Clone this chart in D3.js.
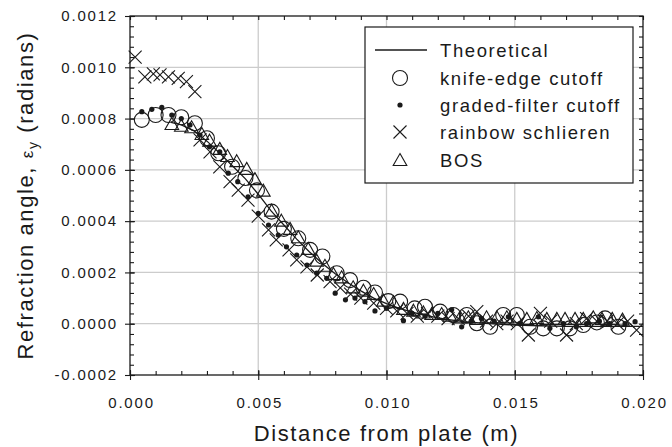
<!DOCTYPE html>
<html>
<head>
<meta charset="utf-8">
<script src="https://cdn.jsdelivr.net/npm/d3@7"></script>
<style>
  body { margin: 0; background: #fff; }
  svg { display: block; font-family: "Liberation Sans", Arial, sans-serif; }
</style>
</head>
<body>
<svg id="chart" width="672" height="447"></svg>
<script>
// ---- data ----
const xTicks = [0, 0.005, 0.010, 0.015, 0.020];
const yTicks = [-0.0002, 0, 0.0002, 0.0004, 0.0006, 0.0008, 0.0010, 0.0012];
const legendLabels = ["Theoretical", "knife-edge cutoff", "graded-filter cutoff", "rainbow schlieren", "BOS"];

const theoretical = [
  [0.0016, 0.000785], [0.0020, 0.000775], [0.0025, 0.000752], [0.0030, 0.000712],
  [0.0035, 0.000665], [0.0040, 0.000615], [0.0045, 0.000565], [0.0050, 0.000505],
  [0.0055, 0.000440], [0.0060, 0.000385], [0.0065, 0.000330], [0.0070, 0.000280],
  [0.0075, 0.000235], [0.0080, 0.000195], [0.0085, 0.000160], [0.0090, 0.000128],
  [0.0095, 0.000100], [0.0100, 0.000078], [0.0105, 0.000060], [0.0110, 0.000045],
  [0.0115, 0.000033], [0.0120, 0.000023], [0.0125, 0.000015], [0.0130, 0.000008],
  [0.0140, 0.000000], [0.0150, -0.000005], [0.0160, -0.000008], [0.0170, -0.000010],
  [0.0180, -0.000010], [0.0190, -0.000010], [0.0200, -0.000010]
];

const knifeEdge = [
  [0.00046, 0.000795], [0.00100, 0.000814], [0.00150, 0.000814], [0.00200, 0.000805],
  [0.00253, 0.000782], [0.00300, 0.000723], [0.00344, 0.000665], [0.00398, 0.000612],
  [0.00450, 0.000568], [0.00495, 0.000520], [0.00552, 0.000437], [0.00600, 0.000370],
  [0.00656, 0.000333], [0.00702, 0.000288], [0.00750, 0.000262], [0.00806, 0.000197],
  [0.00858, 0.000170], [0.00910, 0.000140], [0.00955, 0.000122], [0.01007, 0.000088],
  [0.01053, 0.000086], [0.01110, 0.000060], [0.01150, 0.000066], [0.01209, 0.000047],
  [0.01260, 0.000034], [0.01313, 0.000034], [0.01352, 0.000002], [0.01404, -0.000012],
  [0.01455, 0.000034], [0.01508, 0.000034], [0.01560, -0.000012], [0.01611, -0.000018],
  [0.01664, -0.000018], [0.01715, -0.000018], [0.01767, -0.000005], [0.01820, 0.000005],
  [0.01852, 0.000021], [0.01904, -0.000012]
];

const gradedFilter = [
  [0.00046, 0.000827], [0.00085, 0.000836], [0.00124, 0.000844], [0.00163, 0.000814],
  [0.00200, 0.000800], [0.00234, 0.000775], [0.00273, 0.000736], [0.00310, 0.000690],
  [0.00350, 0.000670], [0.00383, 0.000587], [0.00420, 0.000554], [0.00460, 0.000495],
  [0.00500, 0.000430], [0.00540, 0.000385], [0.00578, 0.000346], [0.00610, 0.000300],
  [0.00650, 0.000268], [0.00690, 0.000229], [0.00728, 0.000197], [0.00767, 0.000177],
  [0.00800, 0.000119], [0.00840, 0.000093], [0.00877, 0.000100], [0.00916, 0.000086],
  [0.00955, 0.000050], [0.01000, 0.000060], [0.01066, 0.000012], [0.01100, 0.000040],
  [0.01150, 0.000030], [0.01200, 0.000040], [0.01254, 0.000054], [0.01293, -0.000012],
  [0.01330, 0.000010], [0.01370, 0.000020], [0.01420, 0.000010], [0.01475, 0.000027],
  [0.01520, 0.000000], [0.01592, 0.000027], [0.01637, -0.000018], [0.01690, 0.000000],
  [0.01740, -0.000012], [0.01780, 0.000000], [0.01830, 0.000010], [0.01870, 0.000000],
  [0.01930, 0.000000], [0.01969, 0.000008]
];

const rainbow = [
  [0.00020, 0.001040], [0.00058, 0.000963], [0.00091, 0.000974], [0.00117, 0.000970],
  [0.00150, 0.000963], [0.00188, 0.000957], [0.00220, 0.000944], [0.00253, 0.000905],
  [0.00273, 0.000717], [0.00312, 0.000670], [0.00350, 0.000612], [0.00390, 0.000554],
  [0.00422, 0.000521], [0.00460, 0.000482], [0.00500, 0.000420], [0.00540, 0.000366],
  [0.00570, 0.000327], [0.00620, 0.000288], [0.00650, 0.000249], [0.00690, 0.000222],
  [0.00730, 0.000190], [0.00780, 0.000164], [0.00820, 0.000140], [0.00860, 0.000115],
  [0.00900, 0.000100], [0.00950, 0.000080], [0.01000, 0.000060], [0.01040, 0.000050],
  [0.01080, 0.000040], [0.01120, 0.000030], [0.01160, 0.000040], [0.01200, 0.000030],
  [0.01240, 0.000020], [0.01280, 0.000020], [0.01320, 0.000030], [0.01352, 0.000047],
  [0.01390, 0.000010], [0.01430, 0.000000], [0.01470, 0.000010], [0.01510, 0.000000],
  [0.01553, -0.000044], [0.01600, 0.000040], [0.01640, 0.000010], [0.01702, -0.000044],
  [0.01740, 0.000000], [0.01780, 0.000020], [0.01820, 0.000010], [0.01860, 0.000010],
  [0.01900, 0.000000], [0.01940, 0.000010], [0.01975, -0.000025]
];

const bos = [
  [0.00163, 0.000775], [0.00200, 0.000768], [0.00240, 0.000762], [0.00280, 0.000736],
  [0.00310, 0.000710], [0.00350, 0.000678], [0.00380, 0.000650], [0.00416, 0.000630],
  [0.00455, 0.000600], [0.00487, 0.000560], [0.00520, 0.000515], [0.00552, 0.000437],
  [0.00590, 0.000398], [0.00624, 0.000366], [0.00656, 0.000333], [0.00695, 0.000288],
  [0.00728, 0.000242], [0.00760, 0.000222], [0.00793, 0.000190], [0.00825, 0.000177],
  [0.00870, 0.000138], [0.00910, 0.000125], [0.00950, 0.000112], [0.00988, 0.000086],
  [0.01027, 0.000080], [0.01066, 0.000054], [0.01105, 0.000047], [0.01144, 0.000040],
  [0.01176, 0.000034], [0.01215, 0.000034], [0.01248, 0.000027], [0.01287, 0.000021],
  [0.01319, 0.000021], [0.01352, 0.000015], [0.01390, 0.000021], [0.01430, 0.000021],
  [0.01469, 0.000021], [0.01508, 0.000015], [0.01547, 0.000015], [0.01586, 0.000018],
  [0.01625, 0.000015], [0.01664, 0.000015], [0.01696, 0.000015], [0.01735, 0.000015],
  [0.01767, 0.000015], [0.01806, 0.000021], [0.01840, 0.000015], [0.01880, 0.000015],
  [0.01920, 0.000012]
];

// ---- layout ----
const margin = { left: 130, top: 16, right: 29, bottom: 72 };
const width = 672, height = 447;
const svg = d3.select("#chart");

const x = d3.scaleLinear().domain([0, 0.020]).range([margin.left, width - margin.right]);
const y = d3.scaleLinear().domain([-0.0002, 0.0012]).range([height - margin.bottom, margin.top]);

const x0 = x.range()[0], x1 = x.range()[1], y0 = y.range()[0], y1 = y.range()[1];
const ink = "#1a1a1a";

// gridlines
svg.append("g").selectAll("line").data(xTicks.slice(1, -1)).enter().append("line")
    .attr("x1", d => x(d)).attr("x2", d => x(d)).attr("y1", y1).attr("y2", y0)
    .attr("stroke", "#cccccc").attr("stroke-width", 1.3);
svg.append("g").selectAll("line").data(yTicks.slice(1, -1)).enter().append("line")
    .attr("y1", d => y(d)).attr("y2", d => y(d)).attr("x1", x0).attr("x2", x1)
    .attr("stroke", "#cccccc").attr("stroke-width", 1.3);

// axes
const xMinor = d3.range(0, 0.02001, 0.001);
const yMinor = d3.range(-0.0002, 0.00120001, 0.00004);

function styleAxis(g) {
    g.selectAll(".domain").remove();
    g.selectAll("line").attr("stroke", ink).attr("stroke-width", 1.1);
    g.selectAll("text").attr("fill", ink).attr("font-size", 15).attr("letter-spacing", 1.8)
        .attr("font-family", "Liberation Sans, Arial, sans-serif");
}

// bottom
svg.append("g").attr("transform", `translate(0,${y0})`)
    .call(d3.axisBottom(x).tickValues(xMinor).tickSize(-4).tickFormat("")).call(styleAxis);
svg.append("g").attr("transform", `translate(0,${y0})`)
    .call(d3.axisBottom(x).tickValues(xTicks).tickSize(5).tickPadding(17).tickFormat(d => d.toFixed(3)))
    .call(styleAxis)
    .call(g => g.selectAll("text").attr("dx", 1));
svg.append("g").attr("transform", `translate(0,${y0})`)
    .call(d3.axisBottom(x).tickValues(xTicks).tickSize(-5).tickFormat("")).call(styleAxis);
// top
svg.append("g").attr("transform", `translate(0,${y1})`)
    .call(d3.axisTop(x).tickValues(xMinor).tickSize(-4).tickFormat("")).call(styleAxis);
// left
svg.append("g").attr("transform", `translate(${x0},0)`)
    .call(d3.axisLeft(y).tickValues(yMinor).tickSize(-4).tickFormat("")).call(styleAxis);
svg.append("g").attr("transform", `translate(${x0},0)`)
    .call(d3.axisLeft(y).tickValues(yTicks).tickSize(5).tickPadding(7).tickFormat(d => d.toFixed(4)))
    .call(styleAxis);
svg.append("g").attr("transform", `translate(${x0},0)`)
    .call(d3.axisLeft(y).tickValues(yTicks).tickSize(-5).tickFormat("")).call(styleAxis);
// right
svg.append("g").attr("transform", `translate(${x1},0)`)
    .call(d3.axisRight(y).tickValues(yMinor).tickSize(-4).tickFormat("")).call(styleAxis);

// frame
svg.append("rect").attr("x", x0).attr("y", y1).attr("width", x1 - x0).attr("height", y0 - y1)
    .attr("fill", "none").attr("stroke", ink).attr("stroke-width", 1.3);

// axis titles
svg.append("text").attr("x", (x0 + x1) / 2).attr("y", 441).attr("text-anchor", "middle")
    .attr("font-size", 22).attr("letter-spacing", 1.6).attr("fill", ink)
    .text("Distance from plate (m)");

const yt = svg.append("text").attr("transform", `translate(33,${(y0 + y1) / 2}) rotate(-90)`)
    .attr("text-anchor", "middle").attr("font-size", 22).attr("letter-spacing", 1.6).attr("fill", ink);
yt.append("tspan").text("Refraction angle, ");
yt.append("tspan").attr("font-size", 17).text("ε");
yt.append("tspan").attr("font-size", 14).attr("dy", 5).text("y");
yt.append("tspan").attr("dy", -5).text(" (radians)");

// ---- marks ----
const plot = svg.append("g");
const crossPath = "M-6.5,-6.5L6.5,6.5M-6.5,6.5L6.5,-6.5";
const triPath = "M0,-7.5L6.8,4.5L-6.8,4.5Z";

plot.append("path").datum(theoretical)
    .attr("d", d3.line().x(d => x(d[0])).y(d => y(d[1])))
    .attr("fill", "none").attr("stroke", ink).attr("stroke-width", 1.3);

plot.append("g").selectAll("circle").data(knifeEdge).enter().append("circle")
    .attr("cx", d => x(d[0])).attr("cy", d => y(d[1])).attr("r", 7.5)
    .attr("fill", "none").attr("stroke", ink).attr("stroke-width", 1.1);

plot.append("g").selectAll("circle").data(gradedFilter).enter().append("circle")
    .attr("cx", d => x(d[0])).attr("cy", d => y(d[1])).attr("r", 2.6)
    .attr("fill", ink);

plot.append("g").selectAll("path").data(rainbow).enter().append("path")
    .attr("transform", d => `translate(${x(d[0])},${y(d[1])})`)
    .attr("d", crossPath).attr("fill", "none").attr("stroke", ink).attr("stroke-width", 1.1);

plot.append("g").selectAll("path").data(bos).enter().append("path")
    .attr("transform", d => `translate(${x(d[0])},${y(d[1])})`)
    .attr("d", triPath).attr("fill", "none").attr("stroke", ink).attr("stroke-width", 1.1);

// ---- legend ----
const legend = svg.append("g");
legend.append("rect").attr("x", 365).attr("y", 27).attr("width", 268).attr("height", 156)
    .attr("fill", "#fff").attr("stroke", ink).attr("stroke-width", 1.2);

const rowY = [50, 78, 105, 132, 160];
const symX = 400;
legend.append("line").attr("x1", 375).attr("x2", 427).attr("y1", rowY[0]).attr("y2", rowY[0])
    .attr("stroke", ink).attr("stroke-width", 1.3);
legend.append("circle").attr("cx", symX).attr("cy", rowY[1]).attr("r", 7.5)
    .attr("fill", "none").attr("stroke", ink).attr("stroke-width", 1.1);
legend.append("circle").attr("cx", symX).attr("cy", rowY[2]).attr("r", 2.6).attr("fill", ink);
legend.append("path").attr("transform", `translate(${symX},${rowY[3]})`).attr("d", crossPath)
    .attr("fill", "none").attr("stroke", ink).attr("stroke-width", 1.1);
legend.append("path").attr("transform", `translate(${symX},${rowY[4] + 1})`).attr("d", triPath)
    .attr("fill", "none").attr("stroke", ink).attr("stroke-width", 1.1);

legend.selectAll("text.lab").data(legendLabels).enter().append("text")
    .attr("class", "lab")
    .attr("x", 440).attr("y", (d, i) => rowY[i] + 6.5)
    .attr("font-size", 18.5).attr("letter-spacing", 1.6).attr("fill", ink)
    .text(d => d);
</script>
</body>
</html>
